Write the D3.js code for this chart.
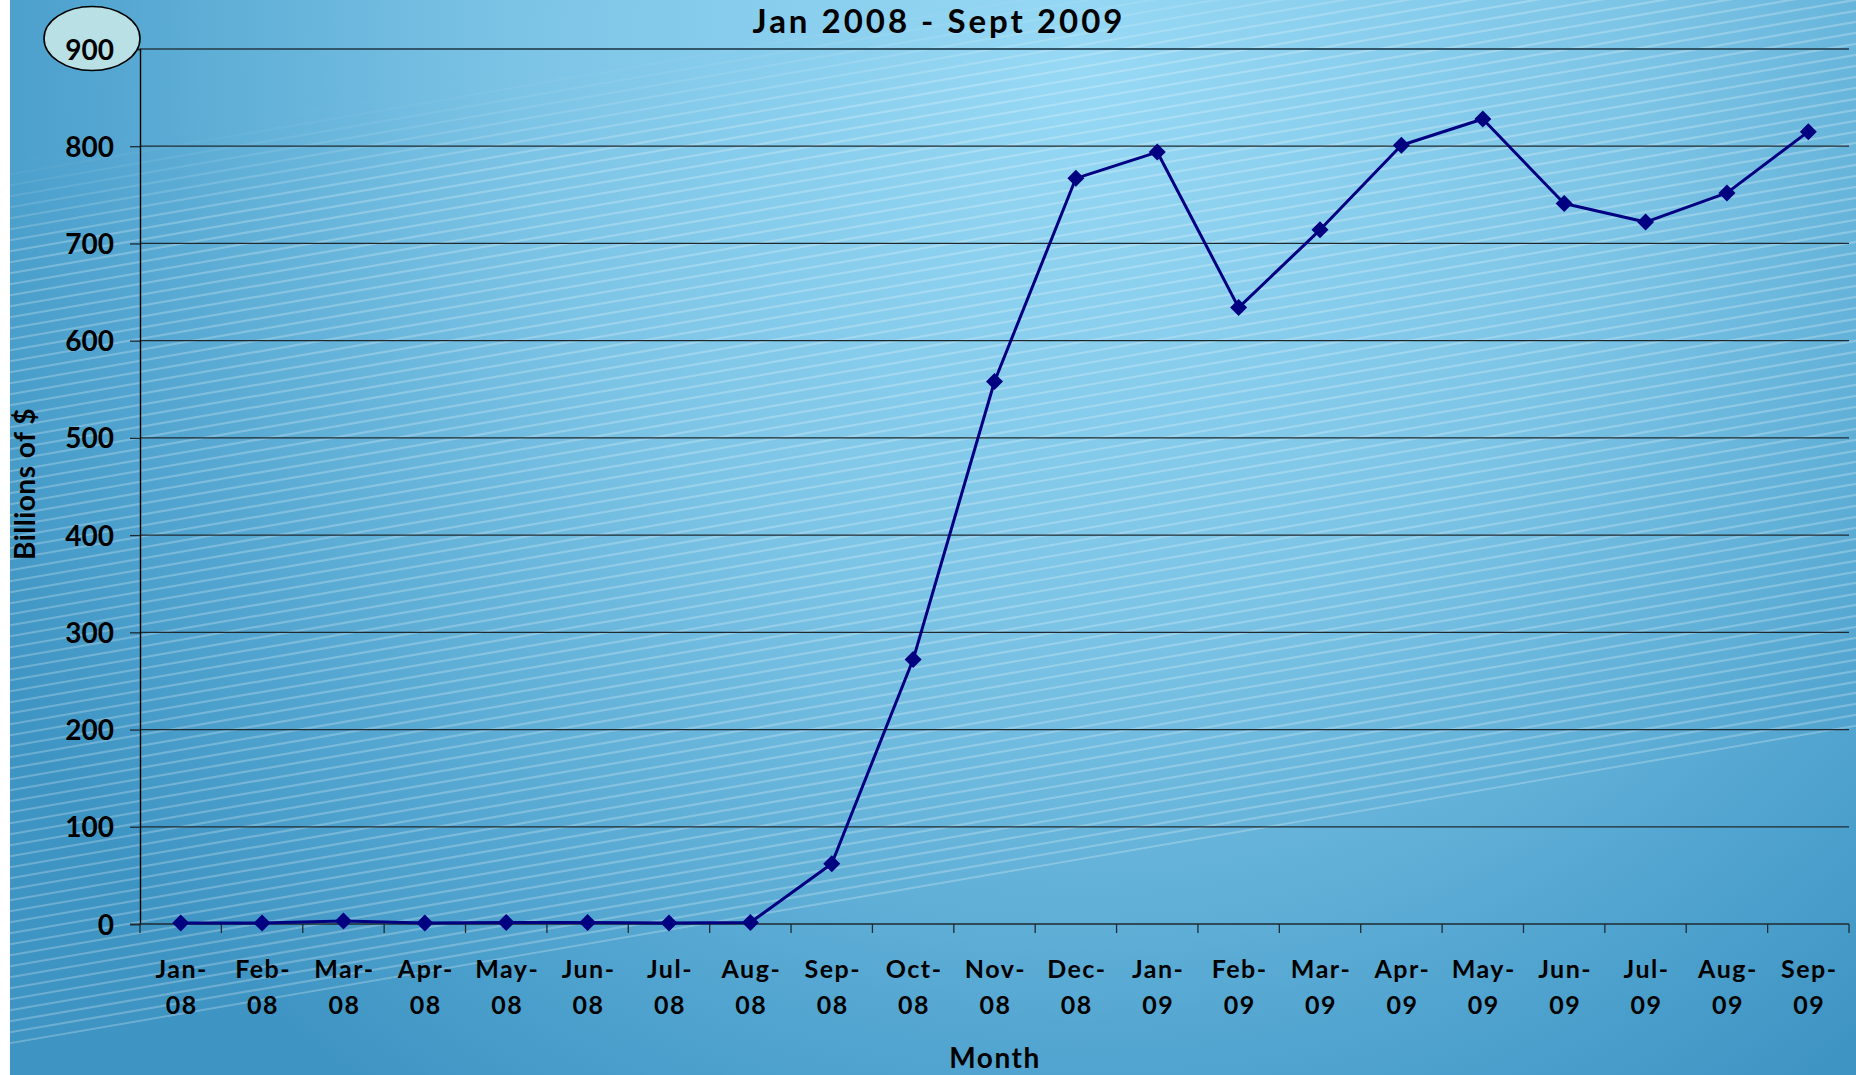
<!DOCTYPE html>
<html>
<head>
<meta charset="utf-8">
<script src="https://cdn.jsdelivr.net/npm/d3@7"></script>
<style>
  html, body { margin: 0; padding: 0; background: #ffffff; }
  svg { display: block; }
  text { font-family: Lato, "Open Sans", sans-serif; font-weight: bold; fill: #000; }
</style>
</head>
<body>
<svg id="chart" width="1856" height="1075"></svg>
<script>
// Monthly values, billions of dollars
const months = [
  "Jan-08", "Feb-08", "Mar-08", "Apr-08", "May-08", "Jun-08", "Jul-08",
  "Aug-08", "Sep-08", "Oct-08", "Nov-08", "Dec-08", "Jan-09", "Feb-09",
  "Mar-09", "Apr-09", "May-09", "Jun-09", "Jul-09", "Aug-09", "Sep-09"
];
const values = [
  1, 1, 3, 1, 1.5, 1.5, 1,
  1.5, 62, 272, 558, 767, 794, 634,
  714, 801, 828, 741, 722, 752, 815
];
const yTicks = [0, 100, 200, 300, 400, 500, 600, 700, 800, 900];

const chartTitle = "Jan 2008 - Sept 2009";
const xTitle = "Month";
const yTitle = "Billions of $";

const W = 1856, H = 1075;
const plot = { left: 140, right: 1849, top: 49, bottom: 924 };

const svg = d3.select("#chart");
const defs = svg.append("defs");

// ---- background ----
const bg = defs.append("radialGradient")
  .attr("id", "bgGrad")
  .attr("gradientUnits", "userSpaceOnUse")
  .attr("cx", 1080).attr("cy", 60).attr("r", 1250);
bg.append("stop").attr("offset", 0).attr("stop-color", "#97d9f5");
bg.append("stop").attr("offset", 0.45).attr("stop-color", "#7cc4e6");
bg.append("stop").attr("offset", 0.8).attr("stop-color", "#52a5d0");
bg.append("stop").attr("offset", 1).attr("stop-color", "#3e94c3");

svg.append("rect").attr("x", 0).attr("y", 0).attr("width", W).attr("height", H).attr("fill", "#ffffff");
svg.append("rect").attr("x", 10).attr("y", 0).attr("width", W - 10).attr("height", H)
  .attr("fill", "url(#bgGrad)");

// diagonal stripe band rising from left to right
const slope = -0.172;
const upper0 = 160, lower0 = 1046;
const fade = defs.append("linearGradient")
  .attr("id", "fadeGrad")
  .attr("gradientUnits", "userSpaceOnUse")
  .attr("x1", 0).attr("y1", upper0).attr("x2", -slope * 90).attr("y2", upper0 + 90);
fade.append("stop").attr("offset", 0).attr("stop-color", "#fff").attr("stop-opacity", 0);
fade.append("stop").attr("offset", 1).attr("stop-color", "#fff").attr("stop-opacity", 1);

const mask = defs.append("mask").attr("id", "bandMask")
  .attr("maskUnits", "userSpaceOnUse")
  .attr("x", 0).attr("y", 0).attr("width", W).attr("height", H);
mask.append("path")
  .attr("d", `M10,${upper0 + slope * 10} L${W},${upper0 + slope * W} L${W},${lower0 + slope * W} L10,${lower0 + slope * 10} Z`)
  .attr("fill", "url(#fadeGrad)");

const stripeGap = 11;
const stripes = svg.append("g").attr("mask", "url(#bandMask)");
const kMin = Math.floor((upper0 + slope * W - 20) / stripeGap);
const kMax = Math.ceil((lower0 + 20) / stripeGap);
stripes.selectAll("line")
  .data(d3.range(kMin, kMax + 1))
  .join("line")
  .attr("x1", 10).attr("y1", k => k * stripeGap + slope * 10)
  .attr("x2", W).attr("y2", k => k * stripeGap + slope * W)
  .attr("stroke", "#ffffff")
  .attr("stroke-opacity", 0.24)
  .attr("stroke-width", 2.2);

// ---- scales ----
const x = d3.scaleBand().domain(months).range([plot.left, plot.right]).padding(0);
const y = d3.scaleLinear().domain([0, 900]).range([plot.bottom, plot.top]);
const cx = d => x(d) + x.bandwidth() / 2;

// ---- gridlines ----
svg.append("g")
  .selectAll("line")
  .data(yTicks.filter(t => t > 0))
  .join("line")
  .attr("x1", plot.left).attr("x2", plot.right)
  .attr("y1", d => y(d)).attr("y2", d => y(d))
  .attr("stroke", d => d === 900 ? "#33576a" : "#1e2a30")
  .attr("stroke-width", d => d === 900 ? 2 : 1.3);

// ---- y axis ----
const yAxis = svg.append("g")
  .attr("transform", `translate(${plot.left},0)`)
  .call(d3.axisLeft(y).tickValues(yTicks).tickSize(10).tickPadding(16).tickFormat(d3.format("d")));
yAxis.select(".domain").attr("stroke", "#000").attr("stroke-width", 1.4);
yAxis.selectAll(".tick line").attr("stroke", "#1e2a30").attr("stroke-width", 1.3);

// highlighted top value
const topTick = yAxis.selectAll(".tick").filter(d => d === 900);
topTick.insert("ellipse", "text")
  .attr("cx", -48).attr("cy", -11)
  .attr("rx", 48).attr("ry", 32)
  .attr("fill", "#b9e1e5")
  .attr("stroke", "#000")
  .attr("stroke-width", 1.6);

yAxis.selectAll(".tick text")
  .attr("font-family", "Lato, 'Open Sans', sans-serif")
  .attr("font-weight", "bold")
  .attr("font-size", 28)
  .attr("fill", "#000")
  .attr("dy", "0.36em");

// ---- x axis ----
const xAxisG = svg.append("g");
xAxisG.append("line")
  .attr("x1", plot.left).attr("x2", plot.right)
  .attr("y1", y(0)).attr("y2", y(0))
  .attr("stroke", "#1e2a30").attr("stroke-width", 1.4);
const bounds = months.map(m => x(m)).concat([plot.right]);
xAxisG.selectAll("line.tick")
  .data(bounds)
  .join("line")
  .attr("class", "tick")
  .attr("x1", d => d).attr("x2", d => d)
  .attr("y1", y(0)).attr("y2", y(0) + 9)
  .attr("stroke", "#1e2a30").attr("stroke-width", 1.3);

const xLabels = xAxisG.selectAll("text.xl")
  .data(months)
  .join("text")
  .attr("class", "xl")
  .attr("text-anchor", "middle")
  .attr("font-size", 25)
  .attr("letter-spacing", 1.5);
xLabels.append("tspan")
  .attr("x", d => cx(d) + 1).attr("y", 978)
  .text(d => d.split("-")[0] + "-");
xLabels.append("tspan")
  .attr("x", d => cx(d) + 1).attr("y", 1014)
  .text(d => d.split("-")[1]);

// ---- series ----
const pts = months.map((m, i) => ({ m, v: values[i] }));
svg.append("path")
  .datum(pts)
  .attr("fill", "none")
  .attr("stroke", "#000080")
  .attr("stroke-width", 3)
  .attr("stroke-linejoin", "round")
  .attr("d", d3.line().x(d => cx(d.m)).y(d => y(d.v)));

svg.append("g")
  .selectAll("path")
  .data(pts)
  .join("path")
  .attr("transform", d => `translate(${cx(d.m)},${y(d.v)})`)
  .attr("d", "M0,-8.5 L8.5,0 L0,8.5 L-8.5,0 Z")
  .attr("fill", "#000080");

// ---- titles ----
svg.append("text")
  .attr("x", 939).attr("y", 33)
  .attr("text-anchor", "middle")
  .attr("font-size", 33)
  .attr("letter-spacing", 3)
  .text(chartTitle);

svg.append("text")
  .attr("x", 995).attr("y", 1068)
  .attr("text-anchor", "middle")
  .attr("font-size", 28)
  .attr("letter-spacing", 1.5)
  .text(xTitle);

svg.append("text")
  .attr("transform", "translate(35,484) rotate(-90)")
  .attr("text-anchor", "middle")
  .attr("font-size", 28)
  .attr("letter-spacing", 0.5)
  .text(yTitle);
</script>
</body>
</html>
